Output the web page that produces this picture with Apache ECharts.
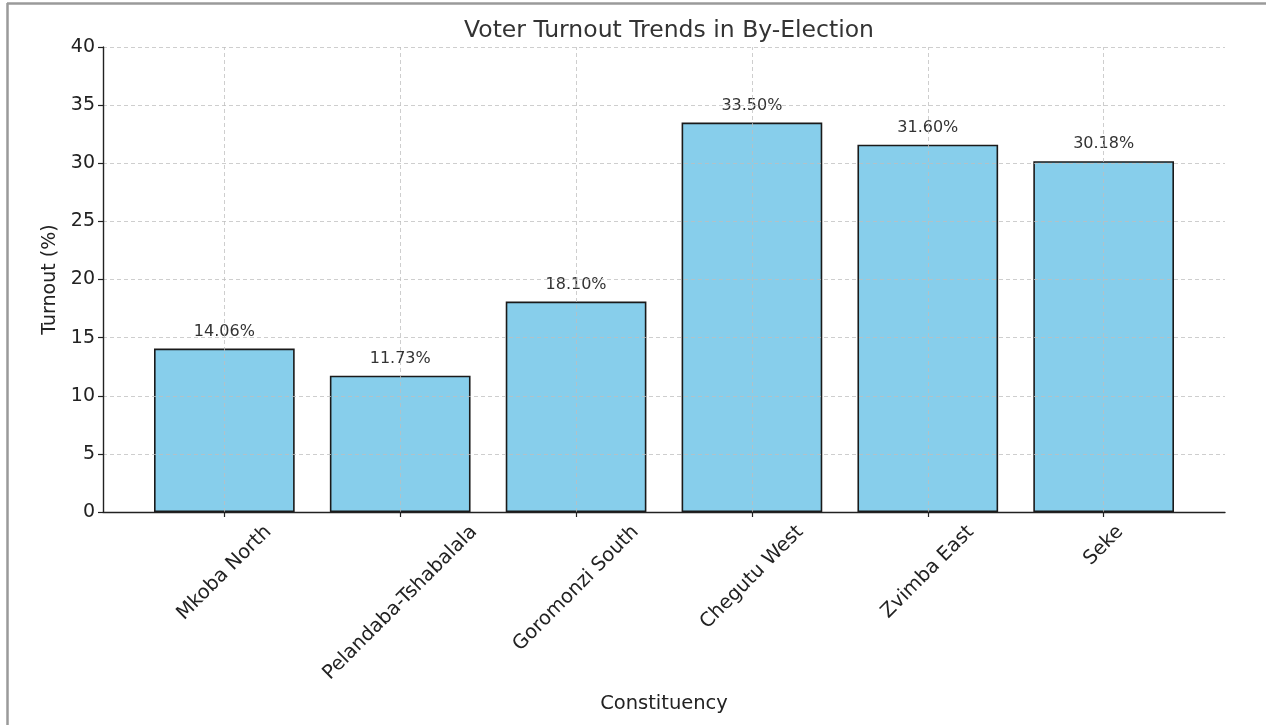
<!DOCTYPE html>
<html>
<head>
<meta charset="utf-8">
<title>Voter Turnout Trends in By-Election</title>
<script src="https://cdn.jsdelivr.net/npm/echarts@6/dist/echarts.min.js"></script>
<style>
  html, body { margin: 0; padding: 0; background: #ffffff; }
  #chart { width: 1266px; height: 725px; }
</style>
</head>
<body>
<div id="chart"></div>
<script>
// Turnout per constituency (%)
const constituencies = ['Mkoba North', 'Pelandaba-Tshabalala', 'Goromonzi South', 'Chegutu West', 'Zvimba East', 'Seke'];
const turnout = [14.06, 11.73, 18.10, 33.50, 31.60, 30.18];
const yTicks = { min: 0, max: 40, step: 5 };

const FONT = 'DejaVu Sans';
const GRID_COLOR = 'rgba(190,190,190,0.75)';
const LABEL_SIZE = 19.5;

// Outer frame spans the full plot; inner frame holds the bars with side margins
const outer = { left: 103, top: 47, width: 1122, height: 465 };
const span = constituencies.length - 1 + 0.8 + 2 * 0.05 * (constituencies.length - 1 + 0.8);
const band = outer.width / span;
const innerLeft = outer.left + band * ((span - constituencies.length) / 2);
const inner = { left: innerLeft, top: outer.top, width: band * constituencies.length, height: outer.height };

const chart = echarts.init(document.getElementById('chart'), null, { renderer: 'canvas' });

chart.setOption({
  backgroundColor: '#ffffff',
  animation: false,
  title: {
    text: 'Voter Turnout Trends in By-Election',
    left: outer.left + outer.width / 2,
    textAlign: 'center',
    top: 14,
    textStyle: { fontFamily: FONT, fontSize: 23.5, fontWeight: 'normal', color: '#333333' }
  },
  grid: [
    { left: outer.left, top: outer.top, width: outer.width, height: outer.height },
    { left: inner.left, top: inner.top, width: inner.width, height: inner.height }
  ],
  xAxis: [
    {
      type: 'value', gridIndex: 0, min: 0, max: 1, z: 12,
      axisLine: { show: true, lineStyle: { color: '#222', width: 1.4 } },
      axisTick: { show: false }, axisLabel: { show: false }, splitLine: { show: false },
      name: 'Constituency', nameLocation: 'middle', nameGap: 182,
      nameTextStyle: { fontFamily: FONT, fontSize: 19.5, color: '#222' }
    },
    {
      type: 'category', gridIndex: 1, data: constituencies,
      axisLine: { show: false },
      axisTick: { show: true, alignWithLabel: true, length: 5, lineStyle: { color: '#222', width: 1.2 } },
      axisLabel: { show: false },
      splitLine: { show: false }
    }
  ],
  yAxis: [
    {
      type: 'value', gridIndex: 0, min: yTicks.min, max: yTicks.max, interval: yTicks.step, z: 10,
      axisLine: { show: true, lineStyle: { color: '#222', width: 1.4 } },
      axisTick: { show: true, length: 5, lineStyle: { color: '#222', width: 1.2 } },
      axisLabel: { fontFamily: FONT, fontSize: 19, color: '#222', margin: 8 },
      splitLine: { show: true, lineStyle: { color: GRID_COLOR, type: [4, 3], width: 1 } },
      name: 'Turnout (%)', nameLocation: 'middle', nameGap: 35,
      nameTextStyle: { fontFamily: FONT, fontSize: 19, color: '#222' }
    },
    {
      type: 'value', gridIndex: 1, min: yTicks.min, max: yTicks.max, interval: yTicks.step,
      show: false, splitLine: { show: false }
    }
  ],
  series: [{
    type: 'bar',
    xAxisIndex: 1,
    yAxisIndex: 1,
    data: turnout,
    barWidth: '80%',
    itemStyle: { color: '#87CEEB', borderColor: '#1a1a1a', borderWidth: 1.6 },
    label: {
      show: true, position: 'top', distance: 9,
      fontFamily: FONT, fontSize: 16, color: '#333333',
      formatter: p => p.value.toFixed(2) + '%'
    },
    markLine: {
      silent: true, symbol: 'none', z: 5,
      label: { show: false },
      lineStyle: { color: GRID_COLOR, type: [4, 3], width: 1 },
      data: constituencies.map(c => ({ xAxis: c }))
    }
  }]
});

// Rotated category labels, centred under each tick
const measure = document.createElement('canvas').getContext('2d');
measure.font = LABEL_SIZE + 'px "' + FONT + '"';
const axisY = chart.convertToPixel({ yAxisIndex: 1 }, 0);
const s45 = Math.SQRT1_2;
const labels = constituencies.map((c, i) => {
  const x = chart.convertToPixel({ xAxisIndex: 1 }, c);
  const w = measure.measureText(c).width;
  const boxH = (w + LABEL_SIZE) * s45;
  return {
    type: 'text',
    x: x,
    y: axisY + 10 + boxH / 2,
    rotation: Math.PI / 4,
    silent: true,
    style: {
      text: c, x: 0, y: 0,
      font: LABEL_SIZE + 'px "' + FONT + '"',
      fill: '#222', align: 'center', verticalAlign: 'middle'
    }
  };
});

// Thin frame along the top and left edges
const frame = [
  { type: 'line', shape: { x1: 7, y1: 3.5, x2: 1266, y2: 3.5 }, style: { stroke: '#9a9a9a', lineWidth: 2.5 }, silent: true },
  { type: 'line', shape: { x1: 7.5, y1: 3, x2: 7.5, y2: 725 }, style: { stroke: '#9a9a9a', lineWidth: 2.5 }, silent: true }
];

chart.setOption({ graphic: frame.concat(labels) });
</script>
</body>
</html>
